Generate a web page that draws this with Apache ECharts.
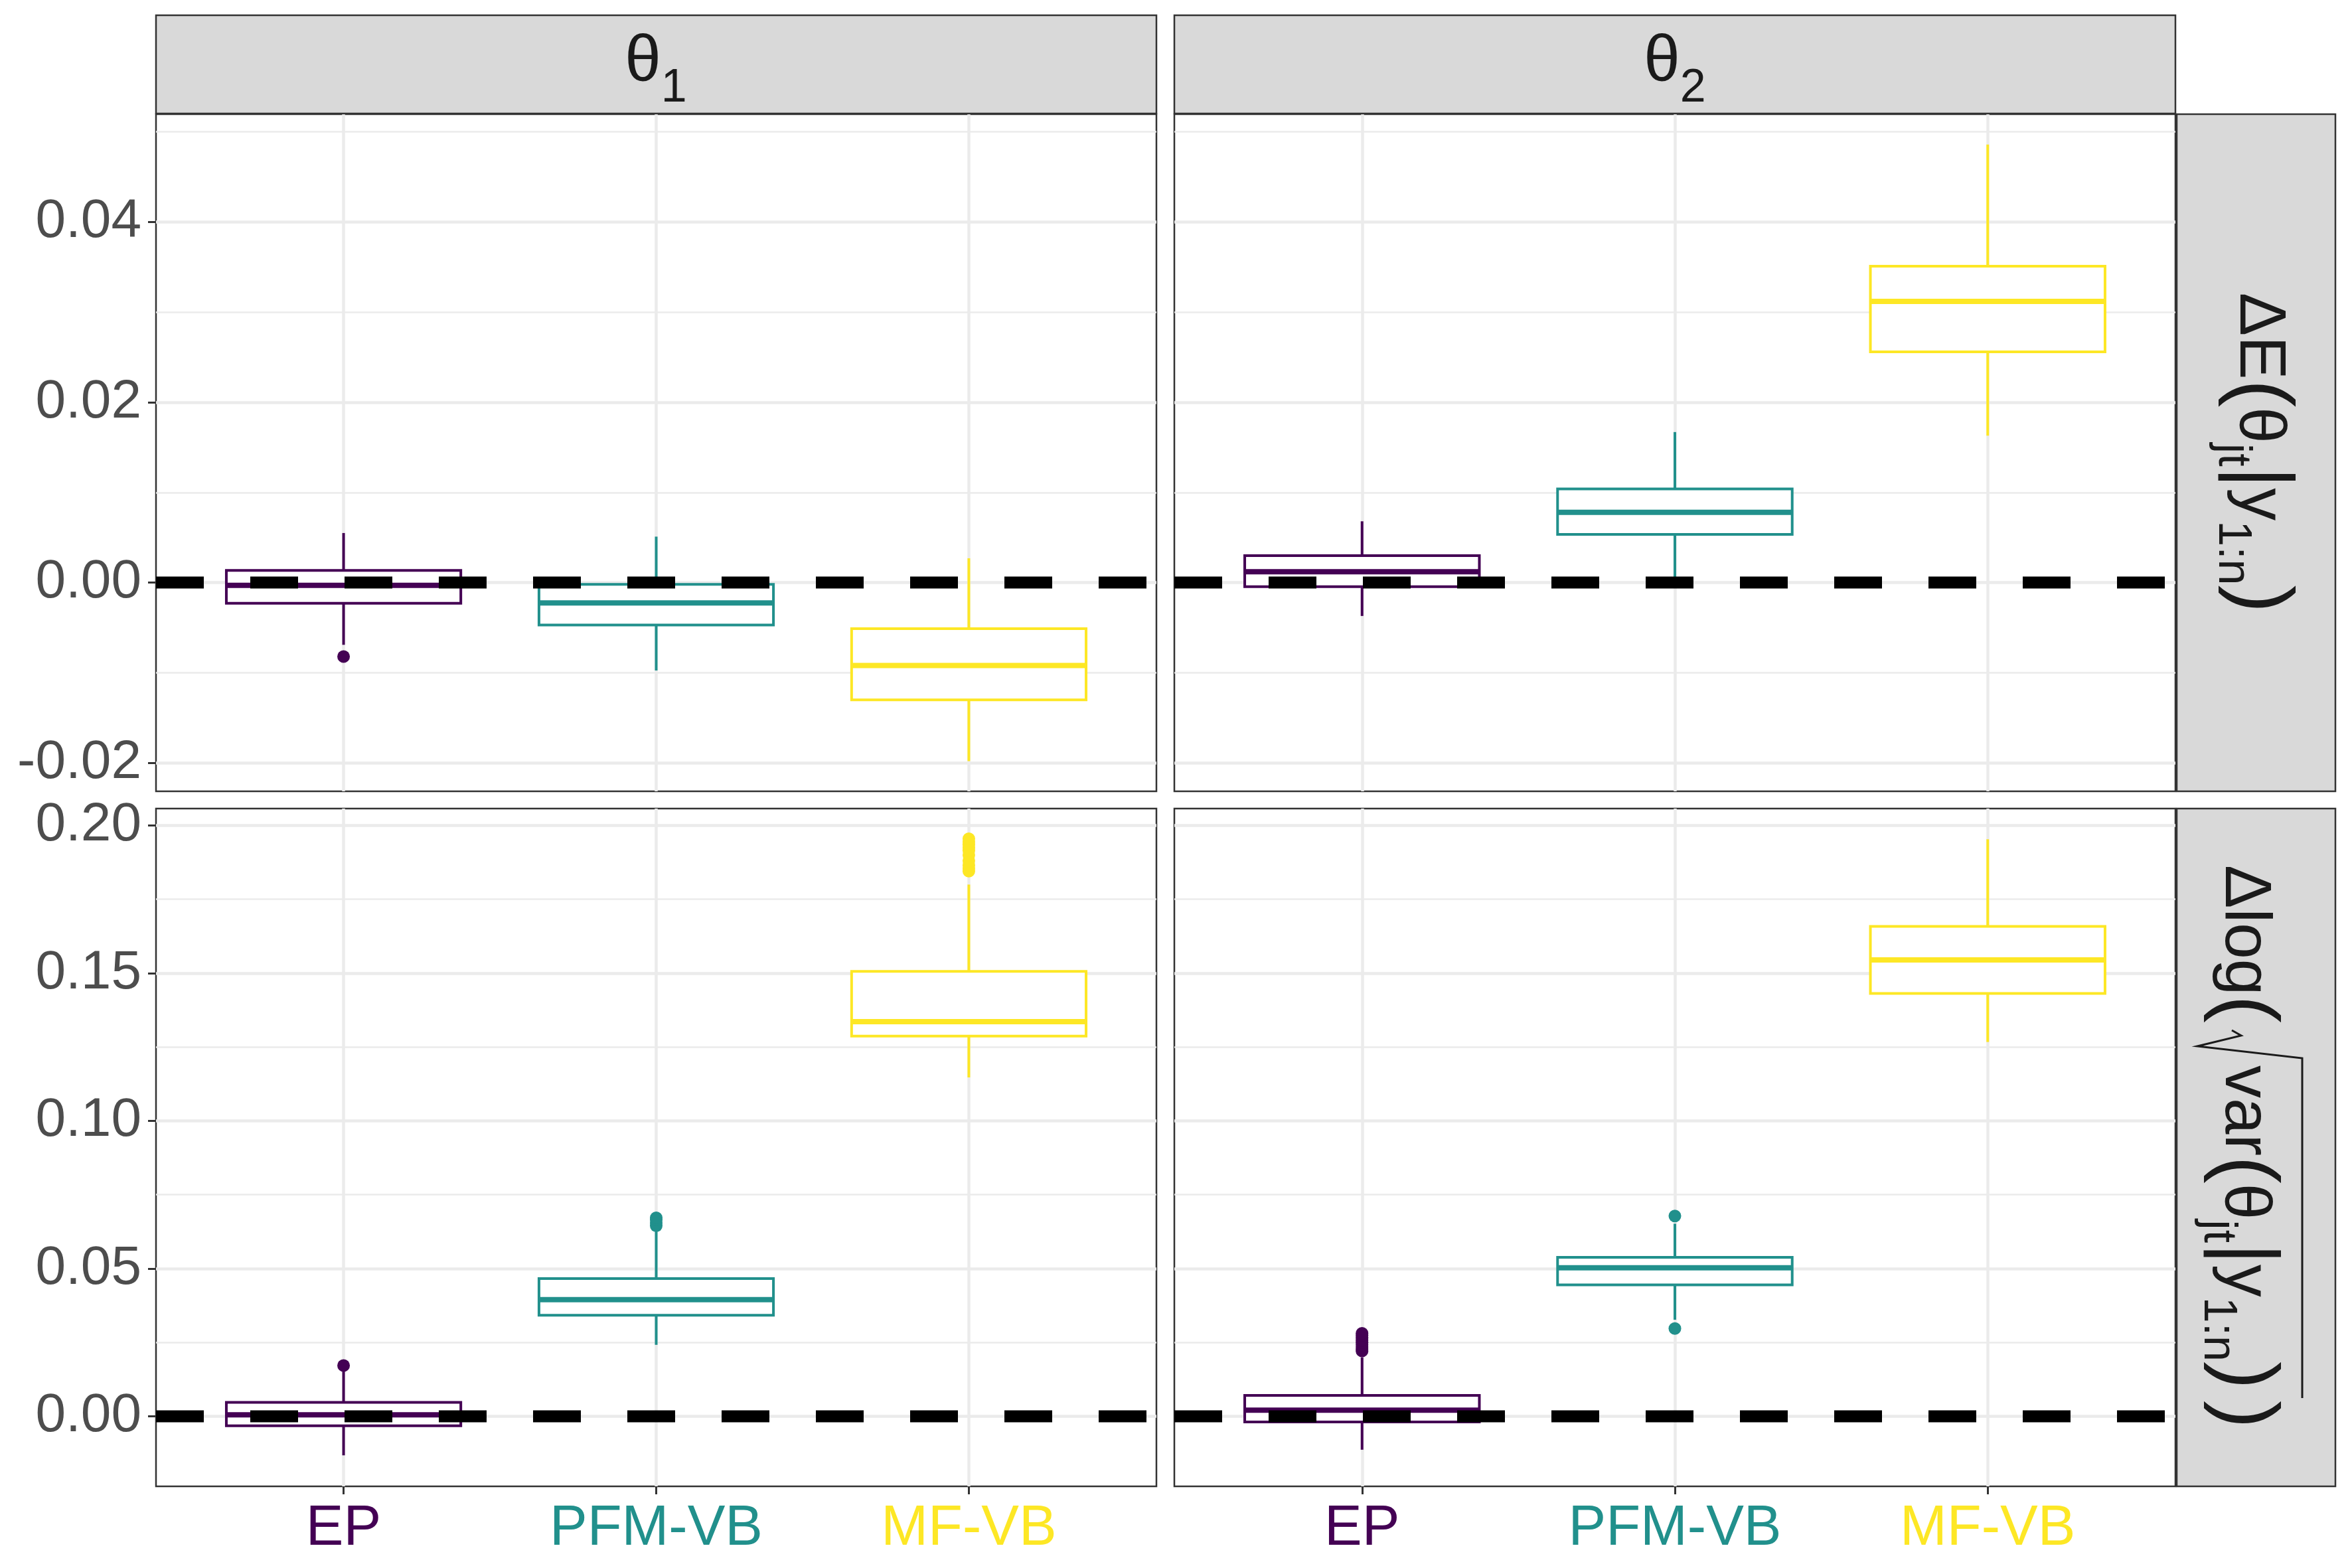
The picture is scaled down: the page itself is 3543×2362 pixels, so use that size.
<!DOCTYPE html>
<html>
<head>
<meta charset="utf-8">
<title>EP vs PFM-VB vs MF-VB</title>
<script src="https://cdn.jsdelivr.net/npm/echarts@6.0.0/dist/echarts.min.js"></script>
<style>
  html, body { margin: 0; padding: 0; background: #fff; }
  #chart { width: 3543px; height: 2362px; }
</style>
</head>
<body>
<div id="chart"></div>
<script>
// categories
const methods = ['EP', 'PFM-VB', 'MF-VB'];
const methodColors = ['#440154', '#21908C', '#FDE725'];

// boxplot stats per method: [lower whisker, Q1, median, Q3, upper whisker]
const meanTheta1 = [
  [-0.0069, -0.0023, -0.0003, 0.00135, 0.0055],
  [-0.00975, -0.0047, -0.00225, -0.0002, 0.0051],
  [-0.0198, -0.0130, -0.0092, -0.0051, 0.0027]
];
const meanTheta2 = [
  [-0.0037, -0.00045, 0.0012, 0.0030, 0.0068],
  [0.0006, 0.00535, 0.0078, 0.0104, 0.0167],
  [0.0163, 0.0256, 0.0312, 0.0351, 0.0486]
];
const logsdTheta1 = [
  [-0.0132, -0.0032, 0.0005, 0.0047, 0.0152],
  [0.0242, 0.0342, 0.0395, 0.0466, 0.0635],
  [0.1147, 0.1287, 0.1336, 0.1506, 0.1800]
];
const logsdTheta2 = [
  [-0.0113, -0.0019, 0.0021, 0.0071, 0.0199],
  [0.0327, 0.0445, 0.0503, 0.0538, 0.0652],
  [0.1267, 0.1431, 0.1545, 0.1658, 0.1953]
];

// zero reference line
const reference = [0];

// outliers per method
const meanTheta1Out = [[-0.0082], [], []];
const meanTheta2Out = [[], [], []];
const logsdTheta1Out = [
  [0.0172],
  [0.0645, 0.0655, 0.0665, 0.0672],
  [0.1845, 0.1855, 0.1865, 0.1880, 0.1900, 0.1915, 0.1925, 0.1935, 0.1945, 0.1955]
];
const logsdTheta2Out = [
  [0.0221, 0.0228, 0.0235, 0.0242, 0.0250, 0.0258, 0.0266, 0.0274, 0.0281],
  [0.0297, 0.0678],
  []
];

// axis ranges and ticks
const meanRange = [-0.02315, 0.05196];
const meanTicks = [-0.02, 0, 0.02, 0.04];
const meanMinor = [-0.01, 0.01, 0.03, 0.05];
const logsdRange = [-0.0237, 0.2057];
const logsdTicks = [0, 0.05, 0.10, 0.15, 0.20];
const logsdMinor = [0.025, 0.075, 0.125, 0.175];
const xRange = [0.4, 3.6];
const xTicks = [1, 2, 3];

const FONT = 'Liberation Sans';
const GRID_COLOR = '#EBEBEB';
const DARK = '#333333';
const BOX_WIDTH = 0.75;

const grids = [
  { left: 235, top: 172, width: 1507, height: 1020 },
  { left: 1769, top: 172, width: 1508, height: 1020 },
  { left: 235, top: 1218, width: 1507, height: 1021 },
  { left: 1769, top: 1218, width: 1508, height: 1021 }
];

const panels = [
  { box: meanTheta1, out: meanTheta1Out, range: meanRange, ticks: meanTicks, minor: meanMinor, leftCol: true, bottomRow: false },
  { box: meanTheta2, out: meanTheta2Out, range: meanRange, ticks: meanTicks, minor: meanMinor, leftCol: false, bottomRow: false },
  { box: logsdTheta1, out: logsdTheta1Out, range: logsdRange, ticks: logsdTicks, minor: logsdMinor, leftCol: true, bottomRow: true },
  { box: logsdTheta2, out: logsdTheta2Out, range: logsdRange, ticks: logsdTicks, minor: logsdMinor, leftCol: false, bottomRow: true }
];

const labelRich = {};
methods.forEach((m, i) => {
  labelRich['m' + i] = { color: methodColors[i], fontSize: 85, fontFamily: FONT };
});

const xAxes = panels.map((p, g) => ({
  type: 'value',
  gridIndex: g,
  position: 'bottom',
  min: xRange[0],
  max: xRange[1],
  axisLine: { show: false, onZero: false },
  axisTick: {
    show: p.bottomRow,
    customValues: xTicks,
    length: 12,
    lineStyle: { color: DARK, width: 3 }
  },
  axisLabel: {
    show: p.bottomRow,
    customValues: xTicks,
    margin: 22,
    formatter: (v) => {
      const i = Math.round(v) - 1;
      return '{m' + i + '|' + methods[i] + '}';
    },
    rich: labelRich
  },
  splitLine: { show: true, lineStyle: { color: GRID_COLOR, width: 4.5 } }
}));

const yAxes = [];
panels.forEach((p, g) => {
  yAxes.push({
    type: 'value',
    gridIndex: g,
    position: 'left',
    min: p.range[0],
    max: p.range[1],
    axisLine: { show: false, onZero: false },
    axisTick: {
      show: p.leftCol,
      customValues: p.ticks,
      length: 12,
      lineStyle: { color: DARK, width: 3 }
    },
    axisLabel: {
      show: p.leftCol,
      customValues: p.ticks,
      margin: 22,
      formatter: (v) => v.toFixed(2),
      color: '#4D4D4D',
      fontSize: 82,
      fontFamily: FONT
    },
    splitLine: { show: true, lineStyle: { color: GRID_COLOR, width: 4.5 } }
  });
});
panels.forEach((p, g) => {
  yAxes.push({
    type: 'value',
    gridIndex: g,
    min: p.range[0],
    max: p.range[1],
    position: 'left',
    axisLine: { show: false, onZero: false },
    axisTick: { show: false, customValues: p.minor },
    axisLabel: { show: false, customValues: p.minor },
    splitLine: { show: true, lineStyle: { color: GRID_COLOR, width: 2.5 } }
  });
});

function renderBox(params, api) {
  const x = api.value(0);
  const col = methodColors[x - 1];
  const half = api.size([BOX_WIDTH, 0])[0] / 2;
  const lo = api.coord([x, api.value(1)]);
  const q1 = api.coord([x, api.value(2)]);
  const med = api.coord([x, api.value(3)]);
  const q3 = api.coord([x, api.value(4)]);
  const hi = api.coord([x, api.value(5)]);
  return {
    type: 'group',
    children: [
      { type: 'line', shape: { x1: hi[0], y1: hi[1], x2: q3[0], y2: q3[1] }, style: { stroke: col, lineWidth: 4 } },
      { type: 'line', shape: { x1: q1[0], y1: q1[1], x2: lo[0], y2: lo[1] }, style: { stroke: col, lineWidth: 4 } },
      { type: 'rect', shape: { x: q3[0] - half, y: q3[1], width: 2 * half, height: q1[1] - q3[1] }, style: { fill: '#fff', stroke: col, lineWidth: 4 } },
      { type: 'line', shape: { x1: med[0] - half, y1: med[1], x2: med[0] + half, y2: med[1] }, style: { stroke: col, lineWidth: 8 } }
    ]
  };
}

function renderRef(params, api) {
  const v = api.value(0);
  const a = api.coord([xRange[0], v]);
  const b = api.coord([xRange[1], v]);
  return {
    type: 'line',
    shape: { x1: a[0], y1: a[1], x2: b[0], y2: b[1] },
    style: { stroke: '#000', lineWidth: 18, lineDash: [72, 70], lineCap: 'butt' }
  };
}

const series = [];
panels.forEach((p, g) => {
  series.push({
    type: 'custom',
    xAxisIndex: g,
    yAxisIndex: g,
    renderItem: renderBox,
    encode: { x: 0, y: [1, 2, 3, 4, 5] },
    data: p.box.map((s, i) => [i + 1].concat(s)),
    z: 2,
    silent: true
  });
  const pts = [];
  p.out.forEach((vals, i) => vals.forEach((v) => pts.push([i + 1, v])));
  series.push({
    type: 'scatter',
    xAxisIndex: g,
    yAxisIndex: g,
    data: pts,
    symbolSize: 19,
    itemStyle: { color: (d) => methodColors[d.value[0] - 1], opacity: 1 },
    z: 3,
    silent: true
  });
  series.push({
    type: 'custom',
    xAxisIndex: g,
    yAxisIndex: g,
    renderItem: renderRef,
    encode: { y: 0 },
    data: reference.map((v) => [v]),
    z: 4,
    silent: true
  });
});

// facet strips
const stripStyle = { fill: '#D9D9D9', stroke: DARK, lineWidth: 2.5 };
const txt = { fill: '#1A1A1A' };
const stripRich = {
  m: { fontSize: 98, lineHeight: 150, fontFamily: FONT, fill: '#1A1A1A' },
  p: { fontSize: 125, lineHeight: 150, fontFamily: FONT, fill: '#1A1A1A' },
  s: { fontSize: 70, lineHeight: 92, verticalAlign: 'bottom', fontFamily: FONT, fill: '#1A1A1A' }
};

const graphics = [
  { type: 'rect', shape: { x: 235, y: 23, width: 1507, height: 148 }, style: stripStyle, z: 10 },
  { type: 'rect', shape: { x: 1769, y: 23, width: 1508, height: 148 }, style: stripStyle, z: 10 },
  { type: 'rect', shape: { x: 3279, y: 172, width: 239, height: 1020 }, style: stripStyle, z: 10 },
  { type: 'rect', shape: { x: 3279, y: 1218, width: 239, height: 1021 }, style: stripStyle, z: 10 },
  {
    type: 'text', x: 988, y: 94, z: 11,
    style: Object.assign({ text: '{m|θ}{s|1}', rich: stripRich, align: 'center', verticalAlign: 'middle' }, txt)
  },
  {
    type: 'text', x: 2523, y: 94, z: 11,
    style: Object.assign({ text: '{m|θ}{s|2}', rich: stripRich, align: 'center', verticalAlign: 'middle' }, txt)
  },
  {
    type: 'text', x: 3402, y: 682, rotation: -Math.PI / 2, z: 11,
    style: Object.assign({ text: '{m|ΔE}{p|(}{m|θ}{s|jt}{p||}{m|y}{s|1:n}{p|)}', rich: stripRich, align: 'center', verticalAlign: 'middle' }, txt)
  },
  {
    type: 'text', x: 3380, y: 1303, rotation: -Math.PI / 2, z: 11,
    style: Object.assign({ text: '{m|Δlog}{p|(}', rich: stripRich, align: 'left', verticalAlign: 'middle' }, txt)
  },
  {
    type: 'polyline', z: 11,
    shape: { points: [[3362, 1552], [3376, 1560], [3310, 1576], [3468, 1594], [3468, 2106]] },
    style: { stroke: '#1A1A1A', lineWidth: 3, fill: null }
  },
  {
    type: 'text', x: 3380, y: 1605, rotation: -Math.PI / 2, z: 11,
    style: Object.assign({ text: '{m|var}{p|(}{m|θ}{s|jt}{p||}{m|y}{s|1:n}{p|)}', rich: stripRich, align: 'left', verticalAlign: 'middle' }, txt)
  },
  {
    type: 'text', x: 3380, y: 2110, rotation: -Math.PI / 2, z: 11,
    style: Object.assign({ text: '{p|)}', rich: stripRich, align: 'left', verticalAlign: 'middle' }, txt)
  }
];

const chart = echarts.init(document.getElementById('chart'), null, { renderer: 'canvas' });
chart.setOption({
  animation: false,
  backgroundColor: '#fff',
  textStyle: { fontFamily: FONT },
  grid: grids.map((g) => Object.assign({ show: true, backgroundColor: '#fff', borderColor: DARK, borderWidth: 2.5 }, g)),
  xAxis: xAxes,
  yAxis: yAxes,
  series: series,
  graphic: graphics
});
</script>
</body>
</html>
